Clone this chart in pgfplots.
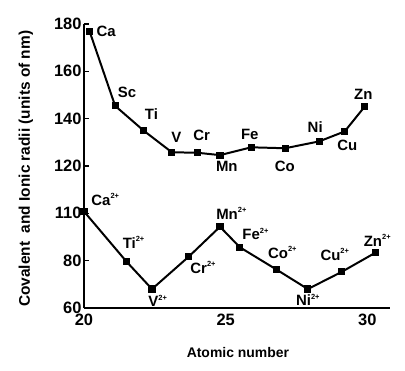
\documentclass[border=0pt]{standalone}
\usepackage{fontspec}
\setmainfont{Liberation Sans}
\usepackage{pgfplots}
\pgfplotsset{compat=1.18}
\newcommand{\twoplus}{\raisebox{0.85ex}{\fontsize{7.5}{8}\selectfont\bfseries 2+}}
\tikzset{lab/.style={font=\fontsize{15}{17}\selectfont\bfseries, inner sep=1pt}}
\begin{document}
\begin{tikzpicture}
\useasboundingbox (-84bp,-63bp) rectangle (321bp,308bp);
\begin{axis}[
  at={(0,0)}, anchor=south west,
  scale only axis, width=306bp, height=284bp,
  xmin=20, xmax=30.8, ymin=60, ymax=180,
  y coord trafo/.code={\pgfmathparse{ifthenelse(#1<80,(#1-60)/20,ifthenelse(#1<110,1+(#1-80)/30,ifthenelse(#1<120,2+(#1-110)/10,3+(#1-120)/20)))}},
  y coord inv trafo/.code={\pgfmathparse{ifthenelse(#1<1,60+20*#1,ifthenelse(#1<2,80+30*(#1-1),ifthenelse(#1<3,110+10*(#1-2),120+20*(#1-3))))}},
  axis x line*=bottom, axis y line*=left,
  axis line style={line width=2pt},
  xtick={20,25,30}, xticklabels={20,25,30},
  ytick={60,80,110,120,140,160,180}, yticklabels={60,80,110,120,140,160,180},
  tick align=inside, major tick length=5bp,
  x tick style={draw=none}, y tick style={line width=1.4pt, black},
  tick label style={font=\fontsize{16.5}{18}\selectfont\bfseries},
  yticklabel style={xshift=1bp},
  xticklabel style={yshift=-3bp},
  /pgf/number format/assume math mode=true,
  xlabel={Atomic number},
  ylabel={Covalent\ \ and Ionic radii (units of nm)},
  label style={font=\fontsize{15.5}{17}\selectfont\bfseries},
  xlabel style={at={(axis description cs:0.503,-0.155)}, anchor=center, font=\fontsize{14}{16}\selectfont\bfseries},
  ylabel style={at={(axis description cs:-0.19,0.49)}, anchor=center},
  clip=false,
]
\addplot[black, line width=2pt, mark=square*, mark size=2.6pt] coordinates {
  (20.2,176.8) (21.1,145.4) (22.1,135) (23.1,125.8) (24.0,125.6) (24.8,124.6)
  (25.9,127.9) (27.1,127.5) (28.3,130.4) (29.2,134.6) (29.9,145)
};
\addplot[black, line width=2pt, mark=square*, mark size=2.6pt] coordinates {
  (20.0,110.4) (21.5,79.6) (22.4,68) (23.7,82.6) (24.8,101.5)
  (25.5,88.5) (26.8,76.2) (27.9,68) (29.1,75.3) (30.3,85.2)
};
\node[lab] at (axis cs:20.78,177) {Ca};
\node[lab] at (axis cs:21.52,151.3) {Sc};
\node[lab] at (axis cs:22.38,141.8) {Ti};
\node[lab] at (axis cs:23.26,132) {V};
\node[lab] at (axis cs:24.15,132.8) {Cr};
\node[lab] at (axis cs:25.04,120) {Mn};
\node[lab] at (axis cs:25.85,133.3) {Fe};
\node[lab] at (axis cs:27.09,120) {Co};
\node[lab] at (axis cs:28.16,136.3) {Ni};
\node[lab] at (axis cs:29.29,128.6) {Cu};
\node[lab] at (axis cs:29.86,150.4) {Zn};
\node[lab] at (axis cs:20.75,113) {Ca\twoplus};
\node[lab] at (axis cs:21.75,91.7) {Ti\twoplus};
\node[lab] at (axis cs:22.6,63) {V\twoplus};
\node[lab] at (axis cs:24.2,77) {Cr\twoplus};
\node[lab] at (axis cs:25.2,110) {Mn\twoplus};
\node[lab] at (axis cs:26.05,97) {Fe\twoplus};
\node[lab] at (axis cs:27.0,85.2) {Co\twoplus};
\node[lab] at (axis cs:27.9,63.4) {Ni\twoplus};
\node[lab] at (axis cs:28.85,84) {Cu\twoplus};
\node[lab] at (axis cs:30.35,93) {Zn\twoplus};
\end{axis}
\end{tikzpicture}
\end{document}
